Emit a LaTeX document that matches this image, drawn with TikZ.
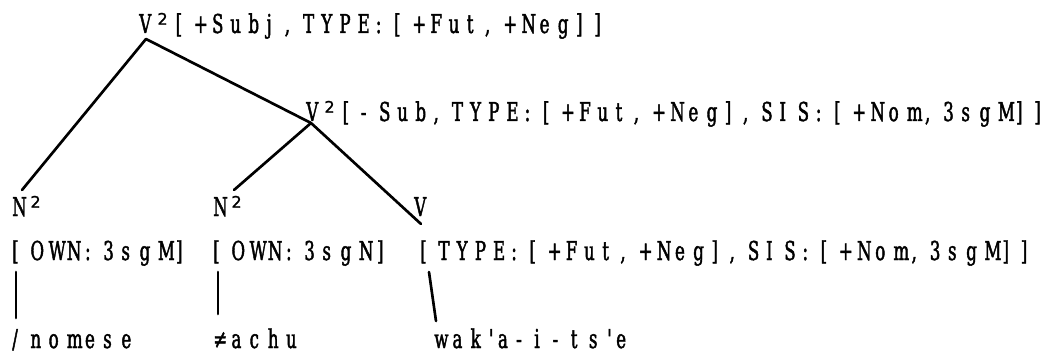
\documentclass[tikz,border=0pt]{standalone}
\usepackage{fontspec}
\newfontfamily\tw[FakeStretch=0.64,FakeBold=1.6]{DejaVu Serif}
\newfontfamily\twsup[FakeBold=1.2]{DejaVu Sans}
\newdimen\px \px=0.75pt
% set a string on a fixed character pitch (pitch given in px)
\ExplSyntaxOn
\dim_new:N \l_tw_pitch_dim
\NewDocumentCommand\spaced{O{18.2}m}{
  \dim_set:Nn \l_tw_pitch_dim {#1\px}
  \tl_map_inline:nn {#2} {\makebox[\l_tw_pitch_dim][l]{##1}}
}
\ExplSyntaxOff
% raised bar-level digit
\newcommand\barlevel{\raisebox{6.2pt}{\twsup\fontsize{12pt}{12pt}\selectfont 2}}
% apostrophe on a half-width cell
\newcommand\apos{\makebox[9.1\px][l]{\textquotesingle}}
\tikzset{
  lbl/.style={anchor=base west, inner sep=0pt, font=\tw\fontsize{19.5pt}{21pt}\selectfont},
  branch/.style={line width=2pt, line cap=round, line join=round}
}
\begin{document}
\begin{tikzpicture}[x=0.75pt,y=-0.75pt]
\useasboundingbox (0,0) rectangle (1055,356);
% category labels
\node[lbl] (top)  at (139,33)  {\spaced{V{\barlevel}[+Subj,TYPE:[+Fut,+Neg]]}};
\node[lbl] (mid)  at (306,121) {\spaced{V{\barlevel}[-Sub,TYPE:[+Fut,+Neg],SIS:[+Nom,3sgM]]}};
\node[lbl] (na)   at (12,216)  {\spaced{N{\barlevel}}};
\node[lbl] (nb)   at (213,216) {\spaced{N{\barlevel}}};
\node[lbl] (v)    at (414,216) {\spaced{V}};
% feature bundles
\node[lbl] (fa)   at (12,260)  {\spaced{[OWN:3sgM]}};
\node[lbl] (fb)   at (213,260) {\spaced{[OWN:3sgN]}};
\node[lbl] (fc)   at (420,260) {\spaced{[TYPE:[+Fut,+Neg],SIS:[+Nom,3sgM]]}};
% word forms
\node[lbl] (wa)   at (12,348)  {\spaced{/nomese}};
\node[lbl] (wb)   at (213,348) {\spaced{≠achu}};
\node[lbl] (wc)   at (434,348) {\spaced{wak}\apos\spaced{a-i-ts}\apos\spaced{e}};
% branch points
\coordinate (rootpt) at (146,39);
\coordinate (midpt)  at (311,123);
\coordinate (natop)  at (22,190);
\coordinate (nbtop)  at (234,190);
\coordinate (vbot)   at (421,224);
\coordinate (fatop)  at (16,272);
\coordinate (fabot)  at (16,318);
\coordinate (fbtop)  at (218,272);
\coordinate (fbbot)  at (218,314);
\coordinate (fctop)  at (429,272);
\coordinate (fcbot)  at (436,321);
% tree branches
\draw[branch] (natop) -- (rootpt) -- (midpt);
\draw[branch] (nbtop) -- (midpt) -- (vbot);
\draw[branch] (fatop) -- (fabot);
\draw[branch] (fbtop) -- (fbbot);
\draw[branch] (fctop) -- (fcbot);
\end{tikzpicture}
\end{document}
